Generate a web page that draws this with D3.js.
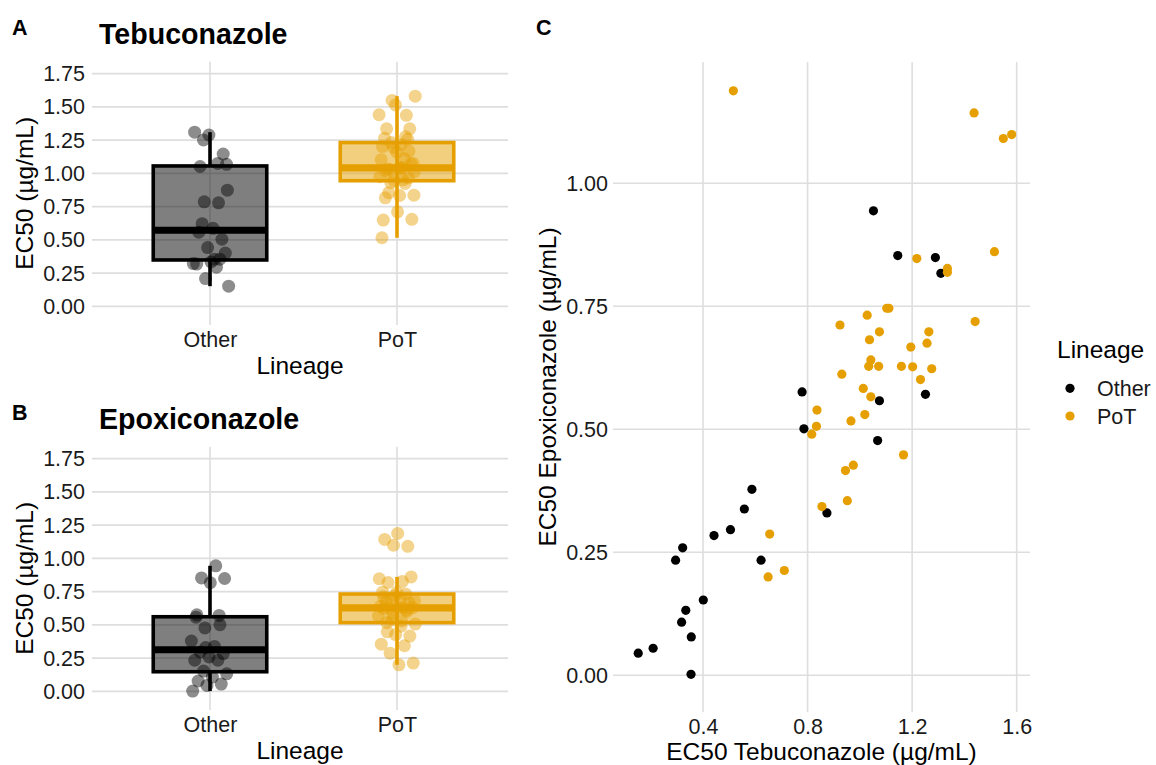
<!DOCTYPE html>
<html>
<head>
<meta charset="utf-8">
<script src="https://cdn.jsdelivr.net/npm/d3@7"></script>
<style>
  body { margin: 0; background: #ffffff; }
  svg { display: block; font-family: "Liberation Sans", Arial, sans-serif; }
</style>
</head>
<body>
<svg id="fig" width="1156" height="765"></svg>
<script>
// ---- data: EC50 (µg/mL) per isolate, paired tebuconazole / epoxiconazole ----
const lineages = ["Other", "PoT"];
const lineageColors = ["#000000", "#E69F00"];

const otherTebuconazole = [0.779, 0.786, 0.874, 0.587, 0.558, 0.505, 0.442, 0.322, 0.295, 0.622,
  0.401, 0.334, 0.318, 0.355, 0.209, 0.152, 0.354, 1.052, 1.145, 1.289, 1.310, 1.075, 1.251, 1.068];
const otherEpoxiconazole = [0.576, 0.501, 0.330, 0.378, 0.338, 0.296, 0.284, 0.259, 0.234, 0.234,
  0.153, 0.132, 0.108, 0.078, 0.055, 0.045, 0.002, 0.944, 0.853, 0.849, 0.817, 0.558, 0.571, 0.477];

const potTebuconazole = [0.516, 0.924, 0.931, 0.836, 0.834, 0.816, 0.966, 0.945, 0.975, 0.952,
  0.855, 0.655, 0.711, 0.649, 1.437, 1.549, 1.581, 1.218, 1.335, 1.335, 1.515, 1.103, 1.111, 1.028,
  1.075, 1.037, 1.264, 1.257, 1.195, 1.441, 1.042, 1.034, 1.072, 1.159, 1.202, 1.275, 1.232, 1.013,
  1.042, 1.019, 1.167];
const potEpoxiconazole = [1.188, 0.712, 0.612, 0.539, 0.506, 0.490, 0.517, 0.416, 0.427, 0.355,
  0.343, 0.287, 0.213, 0.200, 1.143, 1.091, 1.099, 0.847, 0.827, 0.819, 0.861, 0.746, 0.746, 0.732,
  0.698, 0.682, 0.698, 0.675, 0.667, 0.719, 0.641, 0.628, 0.628, 0.628, 0.627, 0.623, 0.601, 0.583,
  0.566, 0.530, 0.448];

const boxTicks = [0, 0.25, 0.5, 0.75, 1.0, 1.25, 1.5, 1.75];
const scatterXTicks = [0.4, 0.8, 1.2, 1.6];
const scatterYTicks = [0, 0.25, 0.5, 0.75, 1.0];

// ---- shared styling ----
const svg = d3.select("#fig");
const gridColor = "#dedede";
const tickFont = 21.5;
const axisTitleFont = 24.5;
const textColor = "#1a1a1a";

function boxStats(vals) {
  const s = vals.slice().sort(d3.ascending);
  const q1 = d3.quantileSorted(s, 0.25);
  const med = d3.quantileSorted(s, 0.5);
  const q3 = d3.quantileSorted(s, 0.75);
  const iqr = q3 - q1;
  const lo = d3.min(s.filter(v => v >= q1 - 1.5 * iqr));
  const hi = d3.max(s.filter(v => v <= q3 + 1.5 * iqr));
  return { q1, med, q3, lo, hi };
}

// low-discrepancy horizontal spread for the jittered points
function spread(i, seed) {
  return ((((i + 1) * 0.6180339887 + seed) % 1) * 2) - 1;
}

function styleAxis(sel, size) {
  sel.select(".domain").remove();
  sel.selectAll("text")
    .attr("fill", textColor)
    .style("font-size", size + "px")
    .style("font-family", "'Liberation Sans', Arial, sans-serif");
}

// ---- boxplot panel (A / B) ----
function boxPanel(top, tag, title, groups, seed) {
  const left = 92, right = 508, pTop = top + 61.7, pBottom = top + 325;
  const lo = -0.05, hi = 1.75, pad = (hi - lo) * 0.05;
  const y = d3.scaleLinear().domain([lo - pad, hi + pad]).range([pBottom, pTop]);
  const x = d3.scalePoint().domain(lineages).range([210, 397]);
  const step = x(lineages[1]) - x(lineages[0]);
  const g = svg.append("g");

  g.selectAll("line.hgrid").data(boxTicks).join("line").attr("class", "hgrid")
    .attr("x1", left).attr("x2", right)
    .attr("y1", d => y(d)).attr("y2", d => y(d))
    .attr("stroke", gridColor).attr("stroke-width", 1.6);
  g.selectAll("line.vgrid").data(lineages).join("line").attr("class", "vgrid")
    .attr("x1", d => x(d)).attr("x2", d => x(d))
    .attr("y1", pTop).attr("y2", pBottom)
    .attr("stroke", gridColor).attr("stroke-width", 1.6);

  groups.forEach((vals, gi) => {
    const name = lineages[gi], col = lineageColors[gi], cx = x(name);
    const st = boxStats(vals);
    const half = step * 0.3035;
    const gg = g.append("g");

    // jittered observations
    gg.selectAll("circle").data(vals).join("circle")
      .attr("cx", (d, i) => cx + spread(i, seed + gi * 0.37) * step * 0.1)
      .attr("cy", d => y(d))
      .attr("r", 6.5)
      .attr("fill", col).attr("fill-opacity", 0.45);

    // whiskers
    const whiskers = name === "PoT"
      ? [[st.lo, st.hi]]
      : [[st.lo, st.q1], [st.q3, st.hi]];
    gg.selectAll("line.whisker").data(whiskers).join("line").attr("class", "whisker")
      .attr("x1", cx).attr("x2", cx)
      .attr("y1", d => y(d[0])).attr("y2", d => y(d[1]))
      .attr("stroke", col).attr("stroke-width", 3.6);

    // box
    gg.append("rect")
      .attr("x", cx - half).attr("width", half * 2)
      .attr("y", y(st.q3)).attr("height", y(st.q1) - y(st.q3))
      .attr("fill", col).attr("fill-opacity", 0.5)
      .attr("stroke", col).attr("stroke-width", 3.6);
    // median
    gg.append("line")
      .attr("x1", cx - half).attr("x2", cx + half)
      .attr("y1", y(st.med)).attr("y2", y(st.med))
      .attr("stroke", col).attr("stroke-width", 7.2);
  });

  // axes
  const ax = g.append("g").attr("transform", `translate(${left},0)`)
    .call(d3.axisLeft(y).tickValues(boxTicks).tickFormat(d3.format(".2f")).tickSize(0).tickPadding(7));
  styleAxis(ax, tickFont);
  const bx = g.append("g").attr("transform", `translate(0,${pBottom})`)
    .call(d3.axisBottom(x).tickSize(0).tickPadding(6.4));
  styleAxis(bx, tickFont);

  // titles
  g.append("text").attr("x", (left + right) / 2).attr("y", pBottom + 49)
    .attr("text-anchor", "middle").attr("font-size", axisTitleFont).attr("fill", "#000")
    .text("Lineage");
  g.append("text").attr("transform", `translate(33,${(pTop + pBottom) / 2}) rotate(-90)`)
    .attr("text-anchor", "middle").attr("font-size", axisTitleFont).attr("fill", "#000")
    .text("EC50 (µg/mL)");
  g.append("text").attr("x", 99).attr("y", top + 44)
    .attr("font-size", 28.6).attr("font-weight", "bold").attr("fill", "#000")
    .text(title);
  g.append("text").attr("x", 12).attr("y", top + 35)
    .attr("font-size", 21.5).attr("font-weight", "bold").attr("fill", "#000")
    .text(tag);
}

boxPanel(0, "A", "Tebuconazole", [otherTebuconazole, potTebuconazole], 0.11);
boxPanel(385, "B", "Epoxiconazole", [otherEpoxiconazole, potEpoxiconazole], 0.53);

// ---- scatter panel (C) ----
(function scatterPanel() {
  const left = 613, right = 1030, top = 62, bottom = 712;
  const x = d3.scaleLinear().domain([0.0555, 1.651]).range([left, right]);
  const y = d3.scaleLinear().domain([-0.0746, 1.2465]).range([bottom, top]);
  const g = svg.append("g");

  g.selectAll("line.hgrid").data(scatterYTicks).join("line").attr("class", "hgrid")
    .attr("x1", left).attr("x2", right)
    .attr("y1", d => y(d)).attr("y2", d => y(d))
    .attr("stroke", gridColor).attr("stroke-width", 1.6);
  g.selectAll("line.vgrid").data(scatterXTicks).join("line").attr("class", "vgrid")
    .attr("x1", d => x(d)).attr("x2", d => x(d))
    .attr("y1", top).attr("y2", bottom)
    .attr("stroke", gridColor).attr("stroke-width", 1.6);

  const series = [
    { name: "Other", tx: otherTebuconazole, ey: otherEpoxiconazole },
    { name: "PoT", tx: potTebuconazole, ey: potEpoxiconazole }
  ];
  series.forEach((s, si) => {
    g.append("g").selectAll("circle").data(s.tx).join("circle")
      .attr("cx", d => x(d))
      .attr("cy", (d, i) => y(s.ey[i]))
      .attr("r", 4.6)
      .attr("fill", lineageColors[si]);
  });

  const ax = g.append("g").attr("transform", `translate(${left},0)`)
    .call(d3.axisLeft(y).tickValues(scatterYTicks).tickFormat(d3.format(".2f")).tickSize(0).tickPadding(5));
  styleAxis(ax, tickFont);
  const bx = g.append("g").attr("transform", `translate(0,${bottom})`)
    .call(d3.axisBottom(x).tickValues(scatterXTicks).tickFormat(d3.format(".1f")).tickSize(0).tickPadding(6.4));
  styleAxis(bx, tickFont);

  g.append("text").attr("x", (left + right) / 2).attr("y", bottom + 47.5)
    .attr("text-anchor", "middle").attr("font-size", axisTitleFont).attr("fill", "#000")
    .text("EC50 Tebuconazole (µg/mL)");
  g.append("text").attr("transform", `translate(556,${(top + bottom) / 2}) rotate(-90)`)
    .attr("text-anchor", "middle").attr("font-size", axisTitleFont).attr("fill", "#000")
    .text("EC50 Epoxiconazole (µg/mL)");
  g.append("text").attr("x", 536).attr("y", 35)
    .attr("font-size", 21.5).attr("font-weight", "bold").attr("fill", "#000")
    .text("C");

  // legend
  const lg = svg.append("g").attr("transform", "translate(1057,0)");
  lg.append("text").attr("x", 0).attr("y", 358)
    .attr("font-size", axisTitleFont).attr("fill", "#000").text("Lineage");
  const items = lg.selectAll("g.item").data(lineages).join("g").attr("class", "item")
    .attr("transform", (d, i) => `translate(0,${388.3 + i * 27.7})`);
  items.append("circle").attr("cx", 13).attr("cy", 0).attr("r", 4.6)
    .attr("fill", (d, i) => lineageColors[i]);
  items.append("text").attr("x", 40).attr("y", 7.7)
    .attr("font-size", tickFont).attr("fill", textColor).text(d => d);
})();
</script>
</body>
</html>
